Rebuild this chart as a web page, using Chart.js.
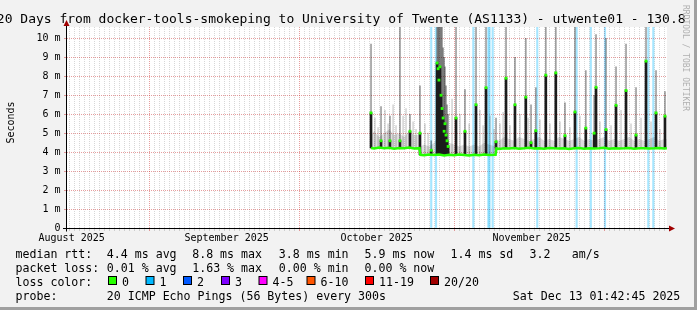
<!DOCTYPE html>
<html>
<head>
<meta charset="utf-8">
<title>smokeping - utwente01</title>
<script src="https://cdn.jsdelivr.net/npm/chart.js@4.4.1/dist/chart.umd.min.js"></script>
<style>
  html, body { margin: 0; padding: 0; background: #f2f2f2; }
  canvas { display: block; }
</style>
</head>
<body>
<canvas id="graficoPing" width="697" height="310" style="width:697px;height:310px"></canvas>
<script>
const TITLE = "120 Days from docker-tools-smokeping to University of Twente (AS1133) - utwente01 - 130.8";
const START = Date.UTC(2025, 7, 15, 1, 42, 45);
const END = Date.UTC(2025, 11, 13, 1, 42, 45);
const Y_MAX = 10.6;

// tick labels
const monthLabels = { 7: "August 2025", 8: "September 2025", 9: "October 2025", 10: "November 2025" };
const yTickValues = [0, 0.5, 1, 1.5, 2, 2.5, 3, 3.5, 4, 4.5, 5, 5.5, 6, 6.5, 7, 7.5, 8, 8.5, 9, 9.5, 10, 10.5];
const yTickLabels = ["0", "1 m", "2 m", "3 m", "4 m", "5 m", "6 m", "7 m", "8 m", "9 m", "10 m"];

// median rtt (seconds, in ms units of the axis) and top of the light smoke around it
const medianTimes = [
  "10-14 21:00", "10-15 12:00", "10-16 12:00", "10-17 12:00", "10-18 12:00", "10-19 12:00",
  "10-20 12:00", "10-21 12:00", "10-22 12:00", "10-23 12:00", "10-24 14:00",
  "10-24 18:00", "10-25 12:00", "10-26 12:00", "10-27 12:00", "10-28 12:00", "10-29 12:00",
  "10-30 12:00", "10-31 12:00", "11-01 12:00", "11-02 12:00", "11-03 12:00", "11-04 12:00",
  "11-05 12:00", "11-06 12:00", "11-07 12:00", "11-08 19:00",
  "11-08 23:00", "11-09 12:00", "11-10 12:00", "11-11 12:00", "11-12 12:00", "11-13 12:00",
  "11-14 12:00", "11-15 12:00", "11-16 12:00", "11-17 12:00", "11-18 12:00", "11-19 12:00",
  "11-20 12:00", "11-21 12:00", "11-22 12:00", "11-23 12:00", "11-24 12:00", "11-25 12:00",
  "11-26 12:00", "11-27 12:00", "11-28 12:00", "11-29 12:00", "11-30 12:00",
  "12-01 12:00", "12-02 12:00", "12-03 12:00", "12-04 12:00", "12-05 12:00", "12-06 12:00",
  "12-07 12:00", "12-08 12:00", "12-09 12:00", "12-10 12:00", "12-11 12:00", "12-12 12:00",
  "12-13 01:00"
];
const medianValues = [
  4.22, 4.19, 4.24, 4.20, 4.23, 4.18, 4.22, 4.20, 4.24, 4.19, 4.21,
  3.86, 3.84, 3.88, 3.85, 3.87, 3.83, 3.86, 3.84, 3.87, 3.85, 3.82, 3.86, 3.84, 3.87, 3.85, 3.86,
  4.20, 4.17, 4.21, 4.19, 4.22, 4.18, 4.20, 4.23, 4.19, 4.21, 4.18, 4.22, 4.20, 4.19, 4.21,
  4.17, 4.20, 4.22, 4.18, 4.21, 4.19, 4.20, 4.23, 4.18, 4.21, 4.19, 4.20, 4.22, 4.18, 4.20,
  4.21, 4.19, 4.20, 4.22, 4.19, 4.20
];
const smokeBand = [
  4.9, 5.1, 4.8, 5.0, 5.2, 4.9, 5.0, 4.8, 5.1, 4.9, 4.9,
  4.3, 4.4, 4.3, 4.5, 4.9, 4.8, 4.5, 4.4, 4.3, 4.4, 4.3, 4.4, 4.3, 4.5, 4.4, 4.3,
  4.7, 4.6, 4.8, 4.7, 4.6, 4.8, 4.7, 4.6, 4.7, 4.8, 4.6, 4.7, 4.6, 4.8, 4.7,
  4.6, 4.7, 4.8, 4.6, 4.7, 4.6, 4.7, 4.8, 4.6, 4.7, 4.6, 4.7, 4.8, 4.6, 4.7,
  4.6, 4.7, 4.8, 4.6, 4.7, 4.7
];

// latency peaks: dark smoke up to the median dot, grey smoke above
const peakTimes = [
  "10-14 21:00", "10-16 21:00", "10-18 16:00", "10-20 16:00", "10-22 16:00", "10-24 16:00", "10-26 22:00",
  "10-28 02:00", "10-28 07:00", "10-28 11:00", "10-28 16:00", "10-28 21:00", "10-29 02:00",
  "10-29 07:00", "10-29 12:00", "10-29 16:00", "10-29 21:00", "10-30 02:00", "10-30 07:00",
  "10-31 21:00", "11-02 16:00", "11-04 21:00", "11-06 21:00", "11-08 21:00",
  "11-10 21:00", "11-12 16:00", "11-14 20:00", "11-15 21:00", "11-16 20:00", "11-18 20:00",
  "11-20 20:00", "11-22 16:00", "11-24 16:00", "11-26 20:00", "11-28 12:00", "11-28 21:00", "11-30 21:00",
  "12-02 21:00", "12-04 21:00", "12-06 21:00", "12-08 21:00", "12-10 21:00", "12-12 16:00"
];
const peakBase = [
  4.22, 4.22, 4.22, 4.22, 4.22, 3.86, 3.86,
  3.86, 3.86, 3.86, 3.86, 3.86, 3.86, 3.86, 3.86, 3.86, 3.86, 3.86, 3.86,
  3.86, 3.86, 3.86, 3.86, 4.20,
  4.20, 4.20, 4.20, 4.20, 4.20, 4.20, 4.20, 4.20, 4.20, 4.20, 4.20, 4.20, 4.20,
  4.20, 4.20, 4.20, 4.20, 4.20, 4.20
];
const peakMedian = [
  6.07, 4.6, 4.6, 4.6, 5.1, 5.0, 4.1,
  8.7, 8.4, 7.8, 8.5, 7.0, 6.3, 5.8, 5.1, 5.5, 4.9, 4.6, 4.3,
  5.8, 5.1, 6.5, 7.4, 4.55,
  7.9, 6.5, 6.9, 4.5, 5.13, 8.06, 8.18, 4.87, 6.12, 5.27, 5.0, 7.42, 5.19,
  6.47, 7.25, 4.9, 8.8, 6.07, 5.9
];
const peakSmoke = [
  9.7, 6.4, 5.9, 10.6, 6.0, 7.5, 4.6,
  10.6, 10.6, 10.6, 10.6, 10.6, 10.6, 9.5, 9.0, 8.5, 7.5, 6.5, 6.0,
  10.6, 7.3, 10.6, 10.6, 5.8,
  10.6, 9.0, 10.0, 6.5, 7.4, 10.6, 10.6, 6.6, 10.6, 8.3, 7.0, 10.2, 10.0,
  8.5, 9.7, 7.4, 10.6, 8.3, 7.2
];

// faint smoke streaks between the peaks
const streakTimes = [
  "10-15 16:00", "10-16 07:00", "10-17 16:00", "10-18 07:00", "10-19 07:00", "10-19 21:00",
  "10-21 07:00", "10-21 21:00", "10-23 07:00", "10-23 21:00",
  "10-25 16:00", "10-26 07:00", "10-31 02:00", "11-01 16:00", "11-03 12:00", "11-05 16:00",
  "11-06 07:00", "11-07 16:00", "11-08 12:00",
  "11-09 16:00", "11-10 07:00", "11-11 16:00", "11-13 16:00", "11-15 07:00", "11-17 16:00",
  "11-19 16:00", "11-21 16:00", "11-23 16:00", "11-25 16:00", "11-29 16:00", "12-01 21:00",
  "12-03 21:00", "12-05 21:00", "12-07 21:00", "12-09 21:00", "12-11 16:00"
];
const streakBase = [
  4.22, 4.22, 4.22, 4.22, 4.22, 4.22, 4.22, 4.22, 4.22, 4.22,
  3.86, 3.86, 3.86, 3.86, 3.86, 3.86, 3.86, 3.86, 3.86,
  4.20, 4.20, 4.20, 4.20, 4.20, 4.20, 4.20, 4.20, 4.20, 4.20, 4.20, 4.20,
  4.20, 4.20, 4.20, 4.20, 4.20
];
const streakTop = [
  5.8, 5.3, 6.2, 5.5, 6.5, 5.4, 5.9, 6.3, 5.6, 5.2,
  5.5, 5.0, 6.8, 6.0, 5.5, 6.2, 5.4, 5.9, 5.2,
  5.5, 6.1, 5.4, 6.0, 5.8, 5.7, 5.5, 5.6, 5.3, 5.9, 5.6, 5.4,
  6.2, 5.5, 5.8, 5.6, 5.2
];

// intervals with 1 lost ping
const lossTimes = [
  "10-26 22:00", "10-27 21:00", "11-04 08:00", "11-07 08:00", "11-07 14:00", "11-08 05:00",
  "11-17 03:00", "11-25 00:00", "11-27 20:00", "11-30 16:00", "12-09 08:00", "12-10 08:00"
];

// legend
const lossColors = ["#26ff00", "#00b8ff", "#0059ff", "#7e00ff", "#ff00ff", "#ff5500", "#ff0000", "#a10000"];
const lossLabels = ["0", "1", "2", "3", "4-5", "6-10", "11-19", "20/20"];
const rttStats = ["4.4 ms avg", "8.8 ms max", "3.8 ms min", "5.9 ms now", "1.4 ms sd", "3.2", "am/s"];
const lossStats = ["0.01 % avg", "1.63 % max", "0.00 % min", "0.00 % now"];
const probeText = "20 ICMP Echo Pings (56 Bytes) every 300s";
const stampText = "Sat Dec 13 01:42:45 2025";

const MONO = "'DejaVu Sans Mono', monospace";
const GRID_MAJOR = "rgba(200, 40, 40, 0.45)";
const GRID_MINOR = "rgba(140, 140, 140, 0.35)";

document.addEventListener("DOMContentLoaded", function () {
  renderizarGrafico();
});

function hora(s) {
  const [fecha, hm] = s.split(" ");
  const [mes, dia] = fecha.split("-").map(Number);
  const [h, mi] = hm.split(":").map(Number);
  return Date.UTC(2025, mes - 1, dia, h, mi);
}

function dayTicks() {
  const ticks = [];
  let d = Date.UTC(2025, 7, 16);
  while (d <= END) {
    ticks.push({ value: d });
    d += 86400000;
  }
  return ticks;
}

function isMonthStart(v) {
  return new Date(v).getUTCDate() === 1;
}

// rrdtool style decorations: background, axes with arrows, title and legend
const rrdDecor = {
  id: "rrdDecor",
  beforeDraw(chart) {
    const { ctx, chartArea: a } = chart;
    ctx.save();
    ctx.fillStyle = "#f2f2f2";
    ctx.fillRect(0, 0, chart.width, chart.height);
    ctx.fillStyle = "#ffffff";
    ctx.fillRect(a.left, a.top, a.right - a.left, a.bottom - a.top);
    ctx.restore();
  },
  afterDraw(chart) {
    const { ctx, chartArea: a } = chart;
    const y0 = Math.round(chart.scales.y.getPixelForValue(0)) + 0.5;
    ctx.save();

    // axes
    ctx.strokeStyle = "#000";
    ctx.lineWidth = 1;
    ctx.beginPath();
    ctx.moveTo(63, y0);
    ctx.lineTo(670, y0);
    ctx.moveTo(a.left - 0.5, y0 + 3);
    ctx.lineTo(a.left - 0.5, 25);
    ctx.stroke();
    ctx.fillStyle = "#a00000";
    ctx.beginPath();
    ctx.moveTo(669, y0 - 3);
    ctx.lineTo(675, y0);
    ctx.lineTo(669, y0 + 3);
    ctx.closePath();
    ctx.fill();
    ctx.beginPath();
    ctx.moveTo(a.left - 3.5, 26);
    ctx.lineTo(a.left - 0.5, 20);
    ctx.lineTo(a.left + 2.5, 26);
    ctx.closePath();
    ctx.fill();

    // title
    ctx.fillStyle = "#000";
    ctx.textBaseline = "alphabetic";
    ctx.textAlign = "left";
    ctx.font = "13px " + MONO;
    ctx.fillText(TITLE, -11, 22.5);

    // vertical axis title
    ctx.save();
    ctx.translate(11, 122.5);
    ctx.rotate(-Math.PI / 2);
    ctx.font = "10px " + MONO;
    ctx.textAlign = "center";
    ctx.textBaseline = "middle";
    ctx.fillText("Seconds", 0, 0);
    ctx.restore();

    // watermark
    ctx.save();
    ctx.translate(683, 5);
    ctx.rotate(Math.PI / 2);
    ctx.font = "8px " + MONO;
    ctx.fillStyle = "#b0b0b0";
    ctx.fillText("RRDTOOL / TOBI OETIKER", 0, 0);
    ctx.restore();

    // legend
    const cols = [107.3, 192.7, 279.3, 365, 451, 530, 572.3];
    ctx.font = "11.6px " + MONO;
    ctx.fillStyle = "#000";
    ctx.fillText("median rtt:", 15.5, 257.5);
    rttStats.forEach((s, i) => ctx.fillText(s, cols[i] - 0.5, 257.5));
    ctx.fillText("packet loss:", 15.5, 271.5);
    lossStats.forEach((s, i) => ctx.fillText(s, cols[i] - 0.5, 271.5));
    ctx.fillText("loss color:", 15.5, 285.5);
    const boxX = [108, 145.5, 183, 221, 258.5, 306.5, 365, 430];
    lossLabels.forEach((s, i) => {
      ctx.fillStyle = "#000";
      ctx.fillRect(boxX[i], 276, 9, 9);
      ctx.fillStyle = lossColors[i];
      ctx.fillRect(boxX[i] + 1, 277, 7, 7);
      ctx.fillStyle = "#000";
      ctx.fillText(s, boxX[i] + 14, 285.5);
    });
    ctx.fillText("probe:", 15.5, 299.5);
    ctx.fillText(probeText, 106.8, 299.5);
    ctx.fillText(stampText, 512.8, 299.5);

    // frame shade
    ctx.fillStyle = "#a0a0a0";
    ctx.fillRect(chart.width - 3, 0, 3, chart.height);
    ctx.fillRect(0, chart.height - 3, chart.width, 3);
    ctx.restore();
  }
};

function renderizarGrafico() {
  const ctx = document.getElementById("graficoPing").getContext("2d");

  const bars = (times, lo, hi) => times.map((s, i) => ({ x: hora(s), y: [lo[i], hi[i]] }));

  new Chart(ctx, {
    type: "bar",
    data: {
      datasets: [
        {
          type: "line",
          label: "median rtt",
          data: medianTimes.map((s, i) => ({ x: hora(s), y: medianValues[i] })),
          borderColor: "#26ff00",
          borderWidth: 2.5,
          pointRadius: 0,
          tension: 0,
          order: 0
        },
        {
          type: "line",
          label: "smoke band",
          data: medianTimes.map((s, i) => ({ x: hora(s), y: smokeBand[i] })),
          borderColor: "rgba(0,0,0,0)",
          borderWidth: 0,
          pointRadius: 0,
          tension: 0,
          fill: "-1",
          backgroundColor: "rgba(0, 0, 0, 0.13)",
          order: 5
        },
        {
          type: "line",
          label: "median peaks",
          data: peakTimes.map((s, i) => ({ x: hora(s), y: peakMedian[i] })),
          showLine: false,
          pointStyle: "rect",
          pointRadius: 2,
          pointBackgroundColor: "#26ff00",
          pointBorderWidth: 0,
          order: 1
        },
        {
          label: "dark smoke",
          data: bars(peakTimes, peakBase, peakMedian),
          backgroundColor: "#1c1c1c",
          barThickness: 2,
          grouped: false,
          order: 2
        },
        {
          label: "smoke",
          data: bars(peakTimes, peakBase, peakSmoke),
          backgroundColor: "rgba(0, 0, 0, 0.38)",
          barThickness: 1,
          grouped: false,
          order: 3
        },
        {
          label: "faint smoke",
          data: bars(streakTimes, streakBase, streakTop),
          backgroundColor: "rgba(0, 0, 0, 0.16)",
          barThickness: 1,
          grouped: false,
          order: 4
        },
        {
          label: "loss",
          data: lossTimes.map(s => ({ x: hora(s), y: [0, Y_MAX] })),
          backgroundColor: "rgba(0, 184, 255, 0.35)",
          barThickness: 1.5,
          grouped: false,
          order: 6
        }
      ]
    },
    options: {
      responsive: false,
      animation: false,
      devicePixelRatio: 1,
      events: [],
      layout: { padding: { left: 0, right: 30, top: 27, bottom: 66 } },
      plugins: {
        legend: { display: false },
        tooltip: { enabled: false },
        title: { display: false }
      },
      scales: {
        x: {
          type: "linear",
          min: START,
          max: END,
          offset: false,
          afterBuildTicks: scale => { scale.ticks = dayTicks(); },
          afterFit: scale => { scale.height = 16; },
          grid: {
            color: c => (c.tick && isMonthStart(c.tick.value) ? GRID_MAJOR : GRID_MINOR),
            tickColor: c => (c.tick && isMonthStart(c.tick.value) ? GRID_MAJOR : GRID_MINOR),
            tickLength: 3,
            lineWidth: 1
          },
          border: { display: false, dash: [1, 1] },
          ticks: {
            autoSkip: false,
            maxRotation: 0,
            minRotation: 0,
            padding: 1,
            color: "#000",
            font: { family: MONO, size: 10 },
            callback: function (value) {
              const d = new Date(value);
              return d.getUTCDate() === 16 ? (monthLabels[d.getUTCMonth()] || "") : "";
            }
          }
        },
        y: {
          min: 0,
          max: Y_MAX,
          afterBuildTicks: scale => { scale.ticks = yTickValues.map(v => ({ value: v })); },
          afterFit: scale => { scale.width = 67; },
          grid: {
            color: c => (c.tick && Number.isInteger(c.tick.value) ? GRID_MAJOR : GRID_MINOR),
            tickColor: c => (c.tick && Number.isInteger(c.tick.value) ? GRID_MAJOR : GRID_MINOR),
            tickLength: 3,
            lineWidth: 1
          },
          border: { display: false, dash: [1, 1] },
          ticks: {
            padding: 3.5,
            color: "#000",
            font: { family: MONO, size: 10 },
            callback: function (value) {
              return Number.isInteger(value) ? yTickLabels[value] : "";
            }
          }
        }
      }
    },
    plugins: [rrdDecor]
  });
}
</script>
</body>
</html>
